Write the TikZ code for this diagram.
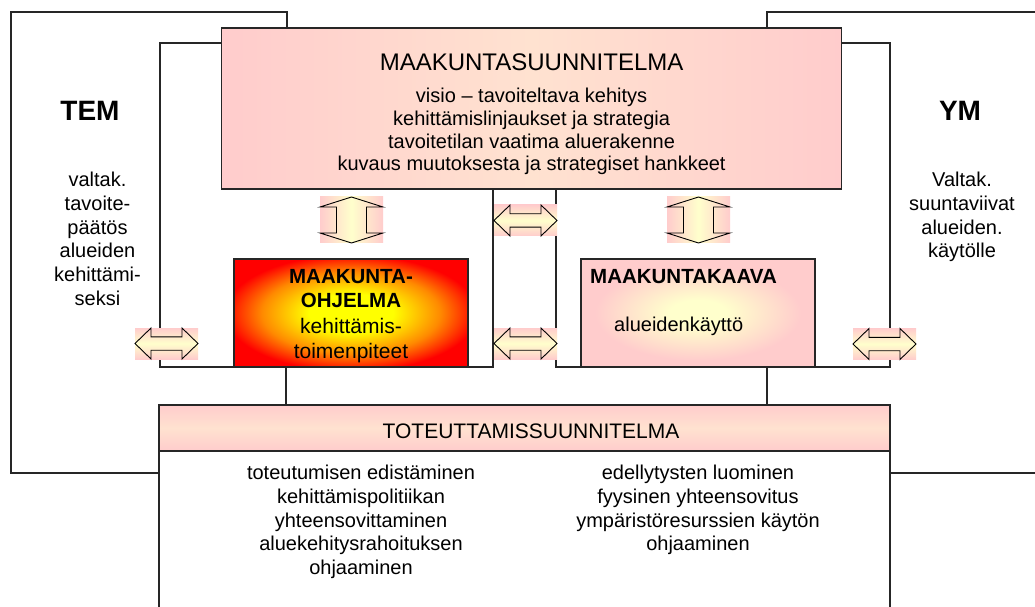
\documentclass[tikz,border=0pt]{standalone}
\usepackage{fontspec}
\setmainfont{Liberation Sans}
\definecolor{pnk}{HTML}{FFCCCC}
\definecolor{lyel}{HTML}{FFFFCC}
\definecolor{peach}{HTML}{FFE2D0}
\definecolor{orng}{HTML}{FF8A00}
\pgfdeclareradialshading{pinky}{\pgfpoint{0bp}{0bp}}{color(0bp)=(lyel); color(6bp)=(lyel); color(22bp)=(pnk); color(50bp)=(pnk)}
\pgfdeclareradialshading{ohj}{\pgfpoint{0bp}{0bp}}{color(0bp)=(yellow); color(9bp)=(yellow); color(19bp)=(orng); color(27bp)=(red); color(50bp)=(red)}
\tikzset{
  ln/.style={line width=1.1bp, draw=black!85},
  box/.style={ln, inner sep=0pt},
  body/.style={font=\fontsize{20bp}{23.7bp}\selectfont, align=center, inner sep=0pt},
  ttl/.style={font=\fontsize{20.5bp}{24bp}\selectfont\bfseries, align=center, inner sep=0pt},
  big/.style={font=\fontsize{28bp}{30bp}\selectfont\bfseries, inner sep=0pt},
  arrline/.style={line width=0.9bp, draw=black},
  varr/.pic={
    \shade[left color=pnk, right color=pnk, middle color=lyel] (-31.5,-23) rectangle (31.5,23);
    \draw[arrline] (0,-23) -- (31.5,-13) -- (15,-13) -- (15,13) -- (31.5,13) -- (0,23)
      -- (-31.5,13) -- (-15,13) -- (-15,-13) -- (-31.5,-13) -- cycle;
  },
  harr/.pic={
    \shade[top color=pnk, bottom color=pnk, middle color=lyel] (-31.5,-15.5) rectangle (31.5,15.5);
    \draw[arrline] (-31.5,0) -- (-15.5,-15.5) -- (-15.5,-6.7) -- (15.5,-6.7) -- (15.5,-15.5) -- (31.5,0)
      -- (15.5,15.5) -- (15.5,6.7) -- (-15.5,6.7) -- (-15.5,15.5) -- cycle;
  },
}
\begin{document}
\begin{tikzpicture}[x=1bp,y=-1bp]
\useasboundingbox (0,0) rectangle (1035,607);
\fill[white] (0,0) rectangle (1035,607);

% frame coordinates
\coordinate (lo1) at (287,28);
\coordinate (lo2) at (287,12);
\coordinate (lo3) at (11,12);
\coordinate (lo4) at (11,473);
\coordinate (lo5) at (159,473);
\coordinate (li1) at (221.5,43);
\coordinate (li2) at (160,43);
\coordinate (li3) at (160,367);
\coordinate (ro1) at (767,28);
\coordinate (ro2) at (767,12);
\coordinate (ro3) at (1035,12);
\coordinate (ro4) at (890,473);
\coordinate (ro5) at (1035,473);
\coordinate (ri1) at (842,43);
\coordinate (ri2) at (890,43);
\coordinate (ri3) at (890,367);
\coordinate (c1t) at (493,189);
\coordinate (c1b) at (493,367);
\coordinate (c2t) at (556,189);
\coordinate (c2b) at (556,367);

% connectors (behind boxes)
\draw[ln] (lo1) -- (lo2) -- (lo3) -- (lo4) -- (lo5);
\draw[ln] (li1) -- (li2) -- (li3) -- (234,367);
\draw[ln] (ro1) -- (ro2) -- (ro3);
\draw[ln] (ro4) -- (ro5);
\draw[ln] (ri1) -- (ri2) -- (ri3) -- (815,367);
\draw[ln] (c1t) -- (c1b) -- (468,367);
\draw[ln] (c2t) -- (c2b) -- (581,367);
\draw[ln] (286,367) -- (286,405);
\draw[ln] (767,367) -- (767,405);

% top box
\node[box, minimum width=620bp, minimum height=161bp, left color=pnk, right color=pnk, middle color=peach] (msu) at (531.6,108.5) {};
\node[inner sep=0pt, font=\fontsize{24bp}{26bp}\selectfont] (msut) at (531.6,62) {MAAKUNTASUUNNITELMA};
\node[body, anchor=north, font=\fontsize{20bp}{22.7bp}\selectfont] (msub) at (531.6,88) {visio – tavoiteltava kehitys\\kehittämislinjaukset ja strategia\\tavoitetilan vaatima aluerakenne\\kuvaus muutoksesta ja strategiset hankkeet};

% ohjelma
\node[box, minimum width=234bp, minimum height=108bp, shading=ohj] (ohj) at (351,313) {};
\node[ttl] (ohjt) at (351,289) {MAAKUNTA-\\OHJELMA};
\node[body, font=\fontsize{21bp}{25bp}\selectfont] (ohjb) at (351,340.5) {kehittämis-\\toimenpiteet};

% kaava
\node[box, minimum width=234bp, minimum height=108bp, shading=pinky] (kaa) at (698,313) {};
\node[ttl, anchor=west] (kaat) at (590,277) {MAAKUNTAKAAVA};
\node[body, anchor=west] (kaab) at (614,326) {alueidenkäyttö};

% bottom box
\fill[white] (159,405) rectangle (890,607);
\draw[ln] (159,607) -- (159,405) -- (890,405) -- (890,607);
\node[box, minimum width=731bp, minimum height=46bp, top color=pnk, bottom color=pnk, middle color=peach] (tsu) at (524.5,428) {};
\node[inner sep=0pt, font=\fontsize{21bp}{24bp}\selectfont] (tsut) at (531,431) {TOTEUTTAMISSUUNNITELMA};
\node[body, anchor=north] (tsul) at (361,465) {toteutumisen edistäminen\\kehittämispolitiikan\\yhteensovittaminen\\aluekehitysrahoituksen\\ohjaaminen};
\node[body, anchor=north] (tsur) at (698,465) {edellytysten luominen\\fyysinen yhteensovitus\\ympäristöresurssien käytön\\ohjaaminen};

% side texts
\node[big] (tem) at (90,111) {TEM};
\node[body, anchor=north] (temb) at (97.5,172) {valtak.\\tavoite-\\päätös\\alueiden\\kehittämi-\\seksi};
\node[big] (ym) at (960,111) {YM};
\node[body, anchor=north] (ymb) at (962,172) {Valtak.\\suuntaviivat\\alueiden.\\käytölle};

% double arrows
\pic (a1) at (351.5,220) {varr};
\pic (a2) at (698.5,220) {varr};
\pic (a3) at (525.5,220.5) {harr};
\pic (a4) at (525.5,343.5) {harr};
\pic (a5) at (166.5,343.5) {harr};
\pic (a6) at (884.5,344) {harr};
\end{tikzpicture}
\end{document}
